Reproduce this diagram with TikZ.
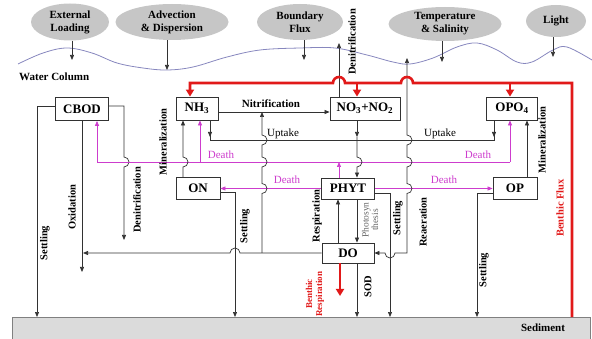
\documentclass[tikz,border=0pt]{standalone}
\usepackage{fontspec}
\setmainfont{Liberation Serif}
\usetikzlibrary{arrows.meta,shapes.geometric}
\definecolor{deathc}{RGB}{205,60,205}
\definecolor{wavec}{RGB}{135,135,190}
\definecolor{fluxc}{RGB}{225,25,25}
\definecolor{linec}{RGB}{50,50,50}
\tikzset{
  box/.style={draw=linec, fill=white, line width=0.8pt, inner sep=0pt, font=\fontsize{13}{13}\selectfont\bfseries},
  factor/.style={ellipse, fill=gray!45, inner sep=0pt, align=center, font=\fontsize{11}{13}\selectfont\bfseries},
  flow/.style={draw=linec, line width=0.7pt},
  tip/.style={-{Triangle[length=5pt,width=4pt]}},
  death/.style={draw=deathc, line width=0.7pt},
  benthic/.style={draw=fluxc, line width=2.6pt},
  vlbl/.style={rotate=90, inner sep=0pt, font=\fontsize{10.5}{11}\selectfont\bfseries},
  hlbl/.style={inner sep=0pt, font=\fontsize{11}{11}\selectfont\bfseries},
  dlbl/.style={inner sep=0pt, text=deathc, font=\fontsize{11}{11}\selectfont},
}
\begin{document}
\begin{tikzpicture}[x=1pt,y=-1pt]
\useasboundingbox (0,0) rectangle (592,339);
% external factors
\node[factor, minimum width=78pt, minimum height=37pt] (ext) at (70,22) {External\\Loading};
\node[factor, minimum width=113pt, minimum height=36pt] (adv) at (172,22) {Advection\\\& Dispersion};
\node[factor, minimum width=86pt, minimum height=36pt] (bnd) at (300,22) {Boundary\\Flux};
\node[factor, minimum width=113pt, minimum height=34pt] (tmp) at (445,24) {Temperature\\\& Salinity};
\node[factor, minimum width=60pt, minimum height=32pt] (lgt) at (556,21) {Light};
% water surface
\draw[wavec, line width=0.8pt] plot[smooth, tension=0.6] coordinates {(18,64) (43,53) (67,48) (92,53) (117,63) (143,68) (167,70) (193,67) (227,57) (260,50) (300,48) (335,48) (367,55) (393,62) (410,64) (433,58) (457,47) (477,43) (497,50) (517,62) (532,62) (553,50) (567,47) (592,60)};
\coordinate (w1) at (72,60);
\coordinate (w2) at (167,70);
\coordinate (w3) at (304,60);
\coordinate (w4) at (442,62);
\coordinate (w5) at (553,57);
\draw[flow,tip] (ext.south -| w1) -- (w1);
\draw[flow,tip] (adv.south -| w2) -- (w2);
\draw[flow,tip] (bnd.south -| w3) -- (w3);
\draw[flow,tip] (tmp.south -| w4) -- (w4);
\draw[flow,tip] (lgt.south -| w5) -- (w5);
\node[hlbl, anchor=west] (wcol) at (19,77) {Water Column};
% state variables
\node[box, minimum width=53pt, minimum height=23pt] (cbod) at (82,109) {CBOD};
\node[box, minimum width=42pt, minimum height=23pt] (nh3) at (197,108.5) {NH\textsubscript{3}};
\node[box, minimum width=70pt, minimum height=23pt] (no3) at (365,108.5) {NO\textsubscript{3}+NO\textsubscript{2}};
\node[box, minimum width=51pt, minimum height=23pt] (opo4) at (512,108.5) {OPO\textsubscript{4}};
\node[box, minimum width=44pt, minimum height=22pt] (on) at (198,188.5) {ON};
\node[box, minimum width=53pt, minimum height=21pt] (phyt) at (348,188.5) {PHYT};
\node[box, minimum width=44pt, minimum height=22pt] (op) at (515,188.5) {OP};
\node[box, minimum width=52pt, minimum height=20pt] (do) at (348,253) {DO};
% sediment
\node[draw=gray, fill=gray!28, minimum width=578pt, minimum height=22pt, inner sep=0pt] (sed) at (301,328) {};
\node[hlbl] (sedlbl) at (543,328) {Sediment};
% CBOD
\draw[flow,tip] ([yshift=3pt]cbod.west) -| (37,317);
\draw[flow,tip] (cbod.south) -- (82,272);
\draw[flow,tip] ([yshift=3pt]cbod.east) -| (124,157) arc[start angle=-90,end angle=90,radius=5] -- (124,240);
\node[vlbl] (set1) at (45,243) {Settling};
\node[vlbl] (oxi) at (72,207) {Oxidation};
\node[vlbl] (den1) at (137,200) {Denitrification};
% death
\draw[death] (97,162) -- (510,162);
\draw[death,tip] (97,162) -- ([xshift=15pt]cbod.south);
\draw[death,tip] (200,162) -- ([xshift=3pt]nh3.south);
\draw[death,tip] (510,162) -- ([xshift=-2pt]opo4.south);
\draw[death,tip] ([xshift=-9pt]phyt.north) -- (339,162);
\draw[death,tip] (phyt.west) -- (on.east);
\draw[death,tip] (phyt.east) -- (op.west);
\node[dlbl] (dth1) at (221,155) {Death};
\node[dlbl] (dth2) at (478,155) {Death};
\node[dlbl] (dth3) at (287,180) {Death};
\node[dlbl] (dth4) at (444,180) {Death};
% ON
\draw[flow,tip] ([xshift=-15pt]on.north) -- (183,167) arc[start angle=90,end angle=-90,radius=5] -- ([xshift=-14pt]nh3.south);
\node[vlbl] (min1) at (163,142) {Mineralization};
\draw[flow,tip] ([yshift=-3.5pt]on.east) -| (235,317);
\node[vlbl] (set2) at (245,226) {Settling};
% nitrification
\draw[flow,tip] ([yshift=-3.5pt]nh3.east) -- ([yshift=-3.5pt]no3.west);
\node[hlbl] (nit) at (271,104) {Nitrification};
% uptake
\draw[flow] ([xshift=13pt]nh3.south) |- (357,140);
\draw[flow,tip] ([xshift=13pt]nh3.south) -- (210,137);
\draw[flow] ([xshift=-18pt]opo4.south) |- (357,140);
\draw[flow,tip] ([xshift=-18pt]opo4.south) -- (494,137);
\draw[flow,tip] ([xshift=-8pt]no3.south) -- (357,137);
\draw[flow,tip] (357,137) -- (357,157) arc[start angle=-90,end angle=90,radius=5] -- ([xshift=9pt]phyt.north);
\node[hlbl, font=\fontsize{11}{11}\selectfont] (upt1) at (283,134) {Uptake};
\node[hlbl, font=\fontsize{11}{11}\selectfont] (upt2) at (440,134) {Uptake};
% DO
\draw[flow,tip] (do.west) -- (240,253) arc[start angle=0,end angle=-180,radius=5] -- (83,253);
\draw[flow,tip] (262,253) -- (262,193.5) arc[start angle=90,end angle=-90,radius=5] -- (262,167) arc[start angle=90,end angle=-90,radius=5] -- (262,145) arc[start angle=90,end angle=-90,radius=5] -- (262,112);
\draw[flow,tip] ([xshift=-10pt]do.north) -- ([xshift=-10pt]phyt.south);
\draw[flow,tip] ([xshift=9pt]phyt.south) -- ([xshift=9pt]do.north);
\node[vlbl] (resp) at (317,216) {Respiration};
\node[vlbl, text=gray!80!black, align=center, font=\fontsize{9.5}{9.5}\selectfont] (phot) at (370,220) {Photosyn\\thesis};
\draw[flow,tip] ([yshift=-4.5pt]phyt.east) -| (390,317);
\node[vlbl] (set3) at (398,218) {Settling};
\draw[flow,{Triangle[length=5pt,width=4pt]}-{Triangle[length=5pt,width=4pt]}] (do.east) -- (385,253) arc[start angle=180,end angle=0,radius=5] -- (407,253) -- (407,193.5) arc[start angle=90,end angle=-90,radius=5] -- (407,167) arc[start angle=90,end angle=-90,radius=5] -- (407,145) arc[start angle=90,end angle=-90,radius=5] -- (407,58);
\node[vlbl] (rea) at (423,222) {Reaeration};
\draw[flow,tip] ([xshift=9pt]do.south) -- (357,317);
\node[vlbl] (sod) at (368,287) {SOD};
\draw[benthic,-{Triangle[length=7pt,width=8pt]}] ([xshift=-8pt]do.south) -- (340,296);
\node[vlbl, text=fluxc, align=center, font=\fontsize{9}{10}\selectfont\bfseries] (bresp) at (315,294) {Benthic\\Respiration};
% OP
\draw[flow,tip] ([yshift=-4.5pt]op.west) -| (477,317);
\node[vlbl] (set4) at (484,270) {Settling};
\draw[flow,tip] ([xshift=12pt]op.north) -- ([xshift=15pt]opo4.south);
\node[vlbl] (min2) at (542,140) {Mineralization};
% NO3 denitrification
\draw[flow,tip] ([xshift=-26pt]no3.north) -- (339,43);
\node[vlbl] (den2) at (352,42) {Denitrification};
% benthic flux
\draw[benthic,-{Triangle[length=7pt,width=8pt]}] (572,317) -- (572,83) -- (413,83) arc[start angle=0,end angle=-180,radius=6] -- (345,83) arc[start angle=0,end angle=-180,radius=6] -- (190,83) -- ([xshift=-7pt]nh3.north);
\draw[benthic,-{Triangle[length=7pt,width=8pt]}] (357,83) -- ([xshift=-8pt]no3.north);
\draw[benthic,-{Triangle[length=7pt,width=8pt]}] (510,83) -- ([xshift=-2pt]opo4.north);
\node[vlbl, text=fluxc] (bflux) at (560,208) {Benthic Flux};
\end{tikzpicture}
\end{document}
